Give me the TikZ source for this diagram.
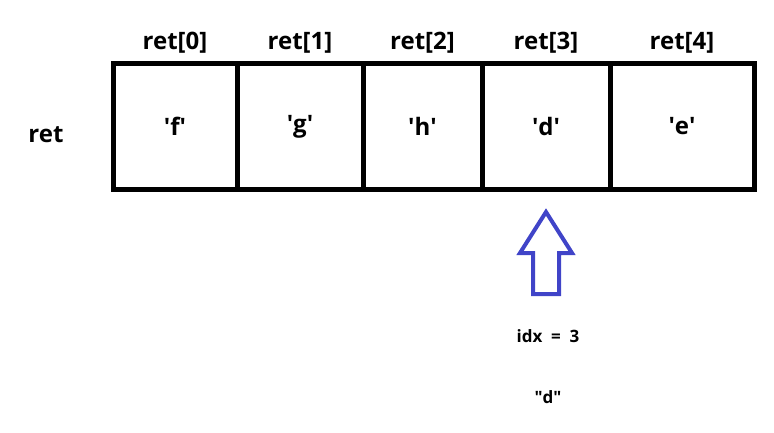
\documentclass[tikz,border=0pt]{standalone}
\usepackage{fontspec}
\setmainfont{Open Sans}
\usetikzlibrary{positioning}

\begin{document}
\begin{tikzpicture}[x=1pt,y=-1pt,
  cell/.style={draw,line width=5pt,minimum height=125pt,inner sep=0pt,font=\fontsize{24}{27}\bfseries},
  idxlabel/.style={font=\fontsize{24}{27}\bfseries},
  note/.style={font=\fontsize{17}{20}\bfseries},
  ptr/.style={draw,line width=4pt,line join=miter}
]
\useasboundingbox (0,0) rectangle (774,433);
\node[idxlabel] (name) at (46,135) {ret};
% cells of the array
\foreach \i/\xa/\xb/\ch in {0/113/237/f,1/237/363/g,2/363/482/h,3/482/610/d,4/610/754/e}{
  \node[cell,minimum width=\xb-\xa] (c\i) at ({(\xa+\xb)/2},126.5) {\textquotesingle\ch\textquotesingle};
  \node[idxlabel,above=5pt of c\i] (h\i) {ret[\i]};
}
% pointer arrow
\coordinate (tip) at (546,212);
\draw[ptr,color={rgb,255:red,64;green,68;blue,200}] (tip) -- (572,253) -- (559,253) -- (559,294)
  -- (533,294) -- (533,253) -- (520,253) -- cycle;
\node[note] (idx) at (548,336) {idx\ \ =\ \ 3};
\node[note] (val) at (548,397) {\textquotedbl d\textquotedbl};
\end{tikzpicture}
\end{document}
